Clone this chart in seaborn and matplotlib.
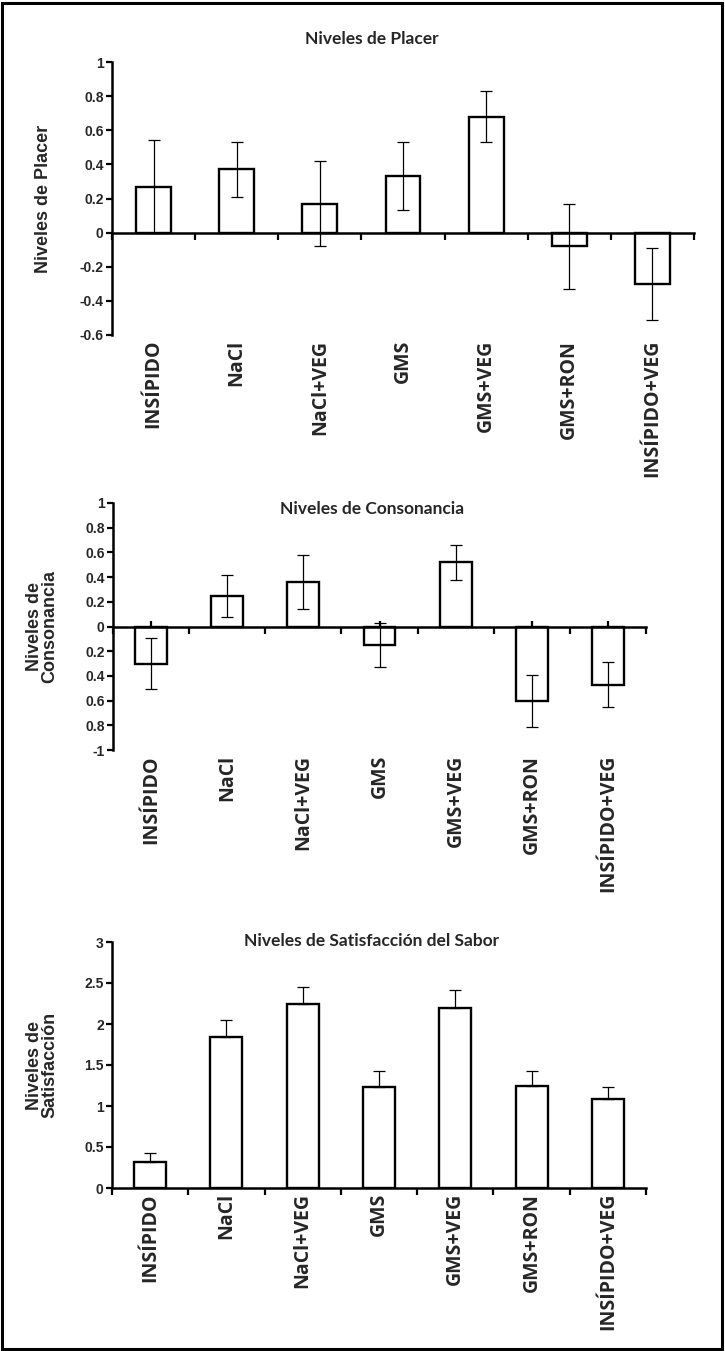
import numpy as np
import pandas as pd
import matplotlib
matplotlib.use("Agg")
import matplotlib.pyplot as plt
import matplotlib.transforms as mtransforms
from matplotlib.patches import Rectangle
import seaborn as sns

# ---- data -------------------------------------------------------------
categories = ["INSÍPIDO", "NaCl", "NaCl+VEG", "GMS", "GMS+VEG", "GMS+RON", "INSÍPIDO+VEG"]

placer = [0.27, 0.37, 0.17, 0.33, 0.68, -0.08, -0.30]
placer_err = [0.27, 0.16, 0.25, 0.20, 0.15, 0.25, 0.21]

consonancia = [-0.30, 0.25, 0.36, -0.15, 0.52, -0.60, -0.47]
consonancia_err = [0.21, 0.17, 0.22, 0.18, 0.14, 0.21, 0.18]

satisfaccion = [0.32, 1.84, 2.25, 1.23, 2.19, 1.25, 1.08]
satisfaccion_err = [0.11, 0.21, 0.20, 0.20, 0.22, 0.18, 0.15]

placer_ticks = [-0.6, -0.4, -0.2, 0, 0.2, 0.4, 0.6, 0.8, 1]
placer_ticklabels = ["-0.6", "-0.4", "-0.2", "0", "0.2", "0.4", "0.6", "0.8", "1"]
consonancia_ticks = [-1, -0.8, -0.6, -0.4, -0.2, 0, 0.2, 0.4, 0.6, 0.8, 1]
consonancia_ticklabels = ["-1", "0.8", "0.6", "0.4", "0.2", "0", "0.2", "0.4", "0.6", "0.8", "1"]
satisfaccion_ticks = [0, 0.5, 1, 1.5, 2, 2.5, 3]
satisfaccion_ticklabels = ["0", "0.5", "1", "1.5", "2", "2.5", "3"]

# ---- style ------------------------------------------------------------
sns.set_theme(style="white")
plt.rcParams["font.family"] = ["Liberation Sans", "DejaVu Sans"]

W, H = 725, 1351
fig = plt.figure(figsize=(W / 100, H / 100), dpi=100)
fig.patch.set_facecolor("white")

TITLE_FONT = dict(family=["Lato", "DejaVu Sans"], fontweight="bold", fontsize=12.5)
CAT_FONT = dict(family=["Open Sans", "DejaVu Sans"], fontweight="bold", fontsize=14)
YLAB_FONT = dict(family=["Liberation Sans", "DejaVu Sans"], fontweight="bold", fontsize=13)


def px_axes(x0, x1, ytop, ybot):
    """Create an axes from pixel edges of the figure."""
    return fig.add_axes([x0 / W, 1 - ybot / H, (x1 - x0) / W, (ybot - ytop) / H])


def draw_panel(ax, values, errs, ylim, ticks, ticklabels, title, title_y,
               ylabel, ylabel_x, both_sides=True, center_ticks=False):
    df = pd.DataFrame({"cat": categories, "val": values})
    sns.barplot(data=df, x="cat", y="val", ax=ax, color="white", saturation=1,
                edgecolor="black", linewidth=1.7, width=0.42, errorbar=None, zorder=2)
    x = np.arange(len(categories))
    yerr = np.array(errs) if both_sides else [np.zeros(len(errs)), np.array(errs)]
    ax.errorbar(x, values, yerr=yerr, fmt="none", ecolor="black",
                elinewidth=0.9, capsize=4, capthick=0.9, zorder=3)

    ax.set_xlim(-0.5, len(categories) - 0.5)
    ax.set_ylim(*ylim)
    for s in ("top", "right"):
        ax.spines[s].set_visible(False)
    ax.spines["bottom"].set_position(("data", 0))
    for s in ("left", "bottom"):
        ax.spines[s].set_linewidth(1.8)
        ax.spines[s].set_color("black")

    ax.set_xticks(np.arange(-0.5, len(categories), 1))
    ax.set_xticklabels([])
    ax.tick_params(axis="x", which="major", direction="out", length=5, width=1.6,
                   color="black", bottom=True)
    if center_ticks:
        ax.set_xticks(x, minor=True)
        ax.tick_params(axis="x", which="minor", direction="in", length=4, width=1.6,
                       color="black", bottom=True)
    ax.set_yticks(ticks)
    ax.set_yticklabels(ticklabels, fontweight="bold", fontsize=10)
    ax.tick_params(axis="y", direction="out", length=4, width=1.6, color="black",
                   left=True, pad=2)
    ax.set_xlabel("")
    ax.set_ylabel("")
    ax.grid(False)

    trans = mtransforms.offset_copy(
        mtransforms.blended_transform_factory(ax.transData, ax.transAxes),
        fig=fig, y=-5, units="dots")
    for i, c in enumerate(categories):
        ax.text(i, 0, c, transform=trans, rotation=90, ha="center", va="top", **CAT_FONT)

    fig.text(372 / W, 1 - title_y / H, title, ha="center", va="center", **TITLE_FONT)
    bbox = ax.get_position()
    fig.text(ylabel_x / W, bbox.y0 + bbox.height / 2, ylabel, rotation=90,
             ha="center", va="center", linespacing=0.85, **YLAB_FONT)


ax1 = px_axes(112, 694, 62, 335)
draw_panel(ax1, placer, placer_err, (-0.6, 1), placer_ticks, placer_ticklabels,
           "Niveles de Placer", 39, "Niveles de Placer", 44)

ax2 = px_axes(113, 646, 503, 750)
draw_panel(ax2, consonancia, consonancia_err, (-1, 1), consonancia_ticks,
           consonancia_ticklabels, "Niveles de Consonancia", 509,
           "Niveles de\nConsonancia", 42, center_ticks=True)

ax3 = px_axes(112, 646, 942, 1188)
draw_panel(ax3, satisfaccion, satisfaccion_err, (0, 3), satisfaccion_ticks,
           satisfaccion_ticklabels, "Niveles de Satisfacción del Sabor", 941,
           "Niveles de\nSatisfacción", 42, both_sides=False)

# outer frame around the whole figure
fig.add_artist(Rectangle((2 / W, 2 / H), (W - 5) / W, (H - 5) / H,
                         transform=fig.transFigure, fill=False, lw=2.2, ec="black"))

fig.savefig("out.png", dpi=100)
